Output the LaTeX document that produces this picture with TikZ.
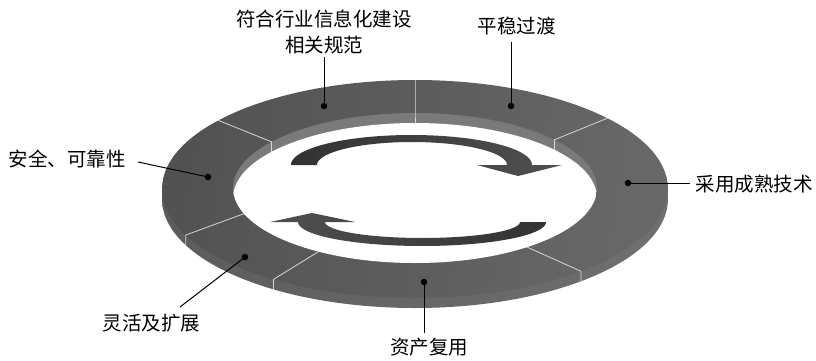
\documentclass[tikz,border=0pt]{standalone}
\usepackage{fontspec}
\newfontfamily\cjk{Noto Sans CJK SC}
\definecolor{topL}{RGB}{82,82,82}
\definecolor{topR}{RGB}{104,104,104}
\definecolor{sideL}{RGB}{92,92,92}
\definecolor{sideR}{RGB}{112,112,112}
\definecolor{wallC}{RGB}{122,122,122}
\definecolor{arrD}{RGB}{50,50,50}
\definecolor{arrM}{RGB}{80,80,80}
\definecolor{divC}{RGB}{215,215,215}
\begin{document}
\begin{tikzpicture}[x=1pt,y=-1pt,
  lbl/.style={font=\cjk\fontsize{19.5}{26}\selectfont, inner sep=0pt, align=center},
  dotnode/.style={circle, fill=black, inner sep=0pt, minimum size=6.5pt},
  leader/.style={draw=black, line width=1pt},
  divider/.style={draw=divC, line width=0.8pt},
]
\useasboundingbox (0,0) rectangle (816,361);

% side (thickness) of the disk
\shade[left color=sideL, right color=sideR] (415,199) ellipse [x radius=253, y radius=109];
% top surface
\shade[left color=topL, right color=topR, shading angle=80] (415,189) ellipse [x radius=253, y radius=109];
% inner wall and hole
\begin{scope}
  \clip (415,188) ellipse [x radius=182, y radius=75];
  \fill[wallC] (415,188) ellipse [x radius=182, y radius=75];
  \fill[white] (415,198) ellipse [x radius=182, y radius=75];
\end{scope}

% dividers on the far side (continue down the inner wall)
\foreach \ao/\ai in {90/90, 40.5/40, 141/142}{
  \draw[divider] ({415+253*cos(\ao)},{189-109*sin(\ao)}) -- ({415+182*cos(\ai)},{188-75*sin(\ai)}) -- ++(0,10);
}
% dividers on the near side (continue down the outer side)
\foreach \ao/\ai in {205/200, 236/238, 311/308}{
  \draw[divider] ({415+182*cos(\ai)},{188-75*sin(\ai)}) -- ({415+253*cos(\ao)},{189-109*sin(\ao)}) -- ++(0,10);
}

% upper curved arrow
\shade[left color=arrD, right color=arrM]
  plot[domain=180:0, samples=60] ({411.5+120.5*cos(\x)},{165-30*sin(\x)})
  -- (562,165) -- (518,176) -- (477,165) -- (507,165)
  -- plot[domain=0:180, samples=60] ({412+95*cos(\x)},{165-23*sin(\x)})
  -- cycle;
% lower curved arrow
\shade[left color=arrM, right color=arrD]
  plot[domain=360:180, samples=60] ({422+124*cos(\x)},{222-24*sin(\x)})
  -- (270,222) -- (312,213) -- (355,222) -- (325,222)
  -- plot[domain=180:360, samples=60] ({422.5+97.5*cos(\x)},{222-16*sin(\x)})
  -- cycle;

% dots
\node[dotnode] (d1) at (324,106) {};
\node[dotnode] (d2) at (511,106) {};
\node[dotnode] (d3) at (628,183) {};
\node[dotnode] (d4) at (424,282) {};
\node[dotnode] (d5) at (245,257) {};
\node[dotnode] (d6) at (208,177) {};

% labels
\node[lbl] (l1) at (324,32) {符合行业信息化建设\\相关规范};
\node[lbl] (l2) at (516.5,26.5) {平稳过渡};
\node[lbl] (l3) at (754,184) {采用成熟技术};
\node[lbl] (l4) at (429,347.5) {资产复用};
\node[lbl] (l5) at (151.5,323.5) {灵活及扩展};
\node[lbl] (l6) at (67.5,158.5) {安全、可靠性};

% leader ends
\coordinate (e1) at (324,57);
\coordinate (e2) at (511,42);
\coordinate (e3) at (690,183);
\coordinate (e4) at (424,333);
\coordinate (e5) at (180,307);
\coordinate (e6) at (138,162);

\draw[leader] (d1.center) -- (e1);
\draw[leader] (d2.center) -- (e2);
\draw[leader] (d3.center) -- (e3);
\draw[leader] (d4.center) -- (e4);
\draw[leader] (d5.center) -- (e5);
\draw[leader] (d6.center) -- (e6);
\end{tikzpicture}
\end{document}
